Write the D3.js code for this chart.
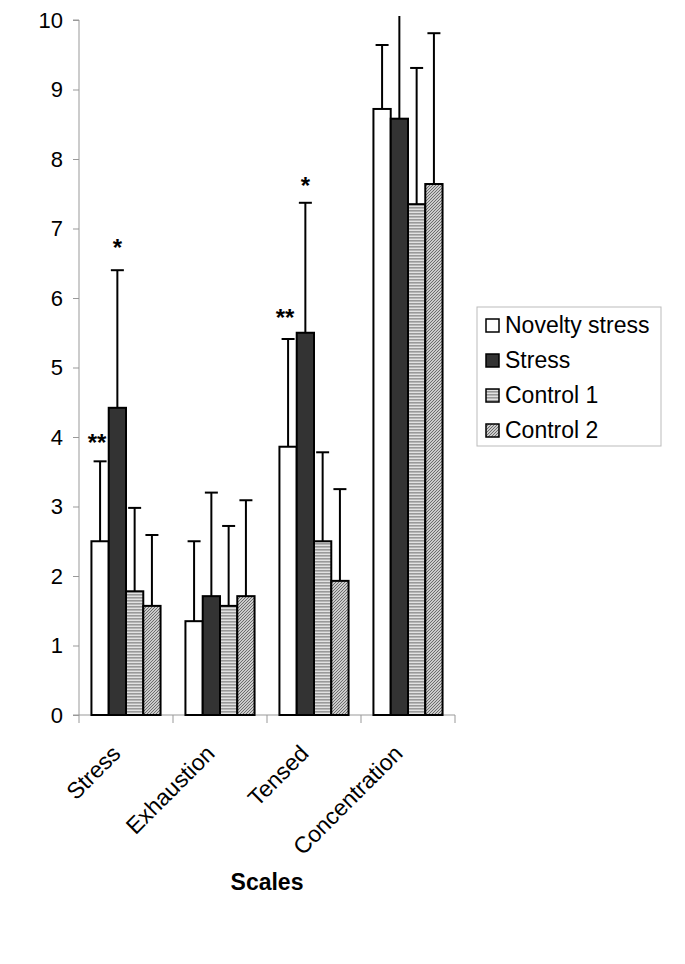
<!DOCTYPE html>
<html><head><meta charset="utf-8">
<script src="https://cdn.jsdelivr.net/npm/d3@7"></script>
<style>body{margin:0;background:#fff}svg{display:block}</style>
</head><body>
<script>
const categories = ["Stress","Exhaustion","Tensed","Concentration"];
const series = ["Novelty stress","Stress","Control 1","Control 2"];
const means = {
  "Novelty stress": [2.50, 1.35, 3.86, 8.72],
  "Stress":         [4.42, 1.71, 5.50, 8.58],
  "Control 1":      [1.78, 1.57, 2.50, 7.35],
  "Control 2":      [1.57, 1.71, 1.93, 7.64]
};
const upper = {
  "Novelty stress": [3.65, 2.50, 5.41, 9.64],
  "Stress":         [6.40, 3.20, 7.37, 10.8],
  "Control 1":      [2.98, 2.72, 3.78, 9.31],
  "Control 2":      [2.59, 3.09, 3.25, 9.81]
};
const yTicks = [0,1,2,3,4,5,6,7,8,9,10];
const marks = [
  {cat:"Stress", ser:"Novelty stress", text:"**", v:4.0},
  {cat:"Stress", ser:"Stress", text:"*", v:6.8},
  {cat:"Tensed", ser:"Novelty stress", text:"**", v:5.8},
  {cat:"Tensed", ser:"Stress", text:"*", v:7.7}
];

const W=685,H=964;
const FONT="Liberation Sans, Arial, sans-serif";
const svg=d3.select("body").append("svg").attr("width",W).attr("height",H);
const defs=svg.append("defs");
const p1=defs.append("pattern").attr("id","hstripe").attr("patternUnits","userSpaceOnUse").attr("width",4).attr("height",3);
p1.append("rect").attr("width",4).attr("height",3).attr("fill","#e2e2e2");
p1.append("rect").attr("width",4).attr("height",1.6).attr("fill","#999");
const p2=defs.append("pattern").attr("id","dhatch").attr("patternUnits","userSpaceOnUse").attr("width",3).attr("height",3);
p2.append("rect").attr("width",3).attr("height",3).attr("fill","#f4f4f4");
p2.append("path").attr("d","M-1,1 L1,-1 M0,3 L3,0 M2,4 L4,2").attr("stroke","#666").attr("stroke-width",1.1);
const fills={"Novelty stress":"#ffffff","Stress":"#333333","Control 1":"url(#hstripe)","Control 2":"url(#dhatch)"};

const x0=79, x1=455, yTop=20, yBot=715;
const x=d3.scaleBand().domain(categories).range([x0,x1]).paddingInner(0).paddingOuter(0);
const xs=d3.scaleBand().domain(series).range([0,x.bandwidth()]).paddingInner(0).paddingOuter(0.72);
const y=d3.scaleLinear().domain([0,10]).range([yBot,yTop]);

svg.append("clipPath").attr("id","clip").append("rect").attr("x",0).attr("y",16).attr("width",W).attr("height",H);

// axes
const ya=svg.append("g").attr("transform",`translate(${x0},0)`).call(d3.axisLeft(y).tickValues(yTicks).tickSize(6).tickPadding(10).tickFormat(d3.format("d")));
ya.selectAll("text").attr("font-family",FONT).attr("font-size",22).attr("fill","#000");
ya.selectAll("line").attr("stroke","#999");
ya.select(".domain").attr("stroke","#999").attr("d",`M-6,${yBot}H0V${yTop}H-6`);

const xa=svg.append("g").attr("transform",`translate(0,${yBot})`);
xa.append("line").attr("x1",x0).attr("x2",x1).attr("stroke","#999");
xa.selectAll("line.t").data(categories.map(c=>x(c)).concat([x1])).join("line").attr("class","t")
  .attr("x1",d=>d).attr("x2",d=>d).attr("y1",0).attr("y2",8).attr("stroke","#999");
xa.selectAll("text").data(categories).join("text")
  .attr("transform",d=>`translate(${x(d)+x.bandwidth()/2-4},${40}) rotate(-45)`)
  .attr("text-anchor","end").attr("font-family",FONT).attr("font-size",23).text(d=>d);

// bars
const g=svg.append("g").attr("clip-path","url(#clip)");
series.forEach(s=>{
  categories.forEach((c,i)=>{
    const bx=x(c)+xs(s), bw=xs.bandwidth(), cx=bx+bw/2;
    g.append("line").attr("x1",cx).attr("x2",cx).attr("y1",y(means[s][i])).attr("y2",y(upper[s][i])).attr("stroke","#000").attr("stroke-width",2);
    if(upper[s][i]<=10) g.append("line").attr("x1",cx-6.5).attr("x2",cx+6.5).attr("y1",y(upper[s][i])).attr("y2",y(upper[s][i])).attr("stroke","#000").attr("stroke-width",2);
    g.append("rect").attr("x",bx).attr("y",y(means[s][i])).attr("width",bw).attr("height",yBot-y(means[s][i]))
      .attr("fill",fills[s]).attr("stroke","#000").attr("stroke-width",2);
  });
});

// significance marks
svg.selectAll("text.sig").data(marks).join("text").attr("class","sig")
  .attr("x",d=>x(d.cat)+xs(d.ser)+xs.bandwidth()/2+(d.text=="**"?-3:0))
  .attr("y",d=>y(d.v)+14).attr("text-anchor","middle")
  .attr("font-family",FONT).attr("font-weight","bold").attr("font-size",24).text(d=>d.text);

// axis title
svg.append("text").attr("x",267).attr("y",890).attr("text-anchor","middle")
  .attr("font-family",FONT).attr("font-weight","bold").attr("font-size",23).text("Scales");

// legend
const lg=svg.append("g").attr("transform","translate(477,307)");
lg.append("rect").attr("width",184).attr("height",139).attr("fill","#fff").attr("stroke","#bbb");
series.forEach((s,i)=>{
  const yy=18+i*35;
  lg.append("rect").attr("x",9).attr("y",yy-6).attr("width",13).attr("height",13).attr("fill",fills[s]).attr("stroke","#000").attr("stroke-width",1.5);
  lg.append("text").attr("x",28).attr("y",yy+8).attr("font-family",FONT).attr("font-size",23).text(s);
});
</script>
</body></html>
